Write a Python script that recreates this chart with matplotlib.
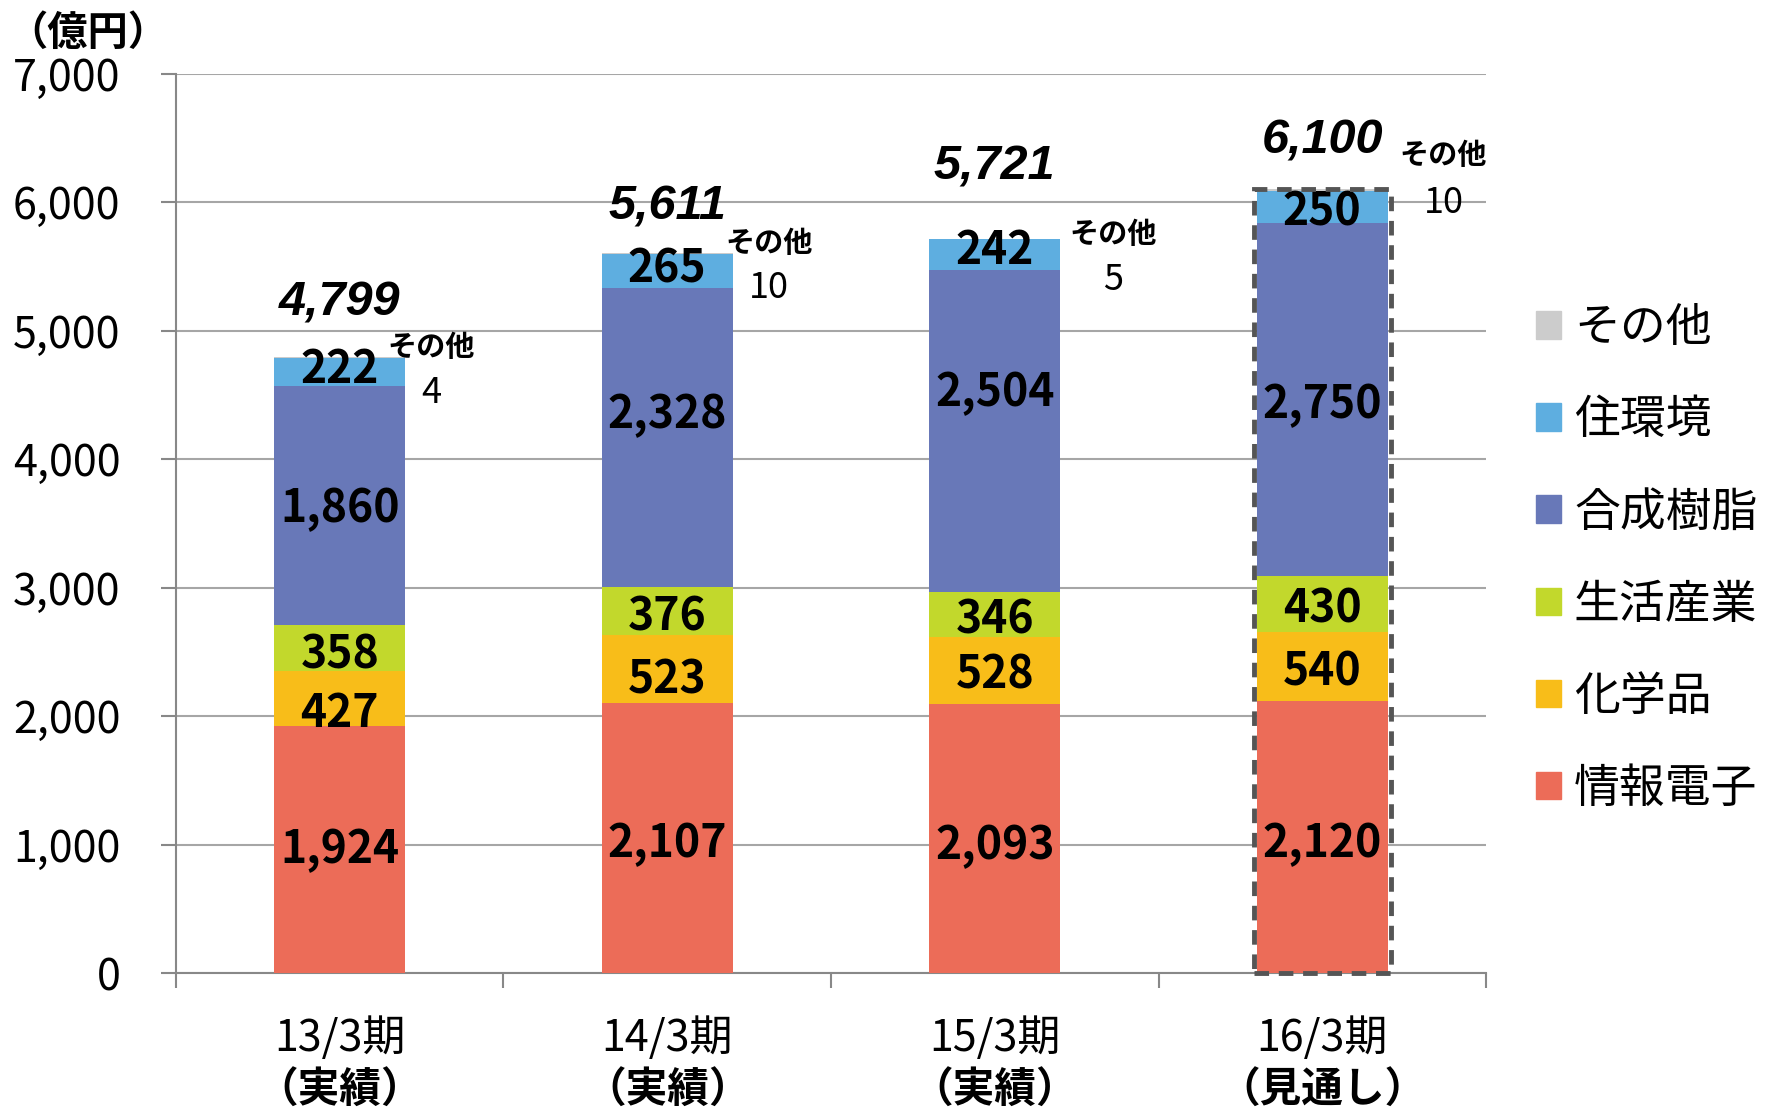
import numpy as np
import matplotlib.pyplot as plt
from matplotlib.patches import Rectangle, Patch

plt.rcParams['font.family'] = ['Noto Sans CJK JP', 'DejaVu Sans']

# =============================================================================
# DATOS
# =============================================================================
periodos = ["13/3期", "14/3期", "15/3期", "16/3期"]
subtitulos = ["（実績）", "（実績）", "（実績）", "（見通し）"]

segmentos = ["情報電子", "化学品", "生活産業", "合成樹脂", "住環境", "その他"]
colores = ["#EC6C58", "#F8BD19", "#C2D82C", "#6878B8", "#5EAEE0", "#CCCCCC"]

info_denshi = [1924, 2107, 2093, 2120]
kagakuhin = [427, 523, 528, 540]
seikatsu = [358, 376, 346, 430]
gosei_jushi = [1860, 2328, 2504, 2750]
jukankyo = [222, 265, 242, 250]
sonota = [4, 10, 5, 10]

totales = ["4,799", "5,611", "5,721", "6,100"]

valores = [info_denshi, kagakuhin, seikatsu, gosei_jushi, jukankyo, sonota]

# posiciones de etiquetas (coordenadas de datos)
y_etiquetas = [
    [981, 1034, 1016, 1034],
    [2042, 2307, 2342, 2369],
    [2501, 2793, 2775, 2855],
    [3641, 4366, 4543, 4446],
    [4720, 5506, 5648, 5948],
]
y_total = [5215, 5965, 6275, 6480]
dx_otro = [0.28, 0.31, 0.36, 0.37]
y_otro_txt = [4875, 5685, 5755, 6365]
y_otro_val = [4515, 5335, 5395, 5995]

ANCHO = 0.40

# =============================================================================
# FIGURA
# =============================================================================
fig = plt.figure(figsize=(17.81, 11.11), dpi=100)
ax = fig.add_axes([0.0988, 0.1238, 0.7356, 0.8098])

x = np.arange(len(periodos))
base = np.zeros(len(periodos))
for i, (nombre, vals, col) in enumerate(zip(segmentos, valores, colores)):
    vals = np.array(vals, dtype=float)
    ax.bar(x, vals, ANCHO, bottom=base, color=col, zorder=3, linewidth=0)
    if nombre != "その他":
        for xi, v, yl in zip(x, vals, y_etiquetas[i]):
            ax.text(xi, yl - 25, f"{int(v):,}", ha='center', va='center',
                    fontsize=32, fontweight='bold', color='black', zorder=5)
    base += vals

# totales
for xi, t, yt in zip(x, totales, y_total):
    ax.text(xi, yt, t, ha='center', va='center', fontsize=35,
            fontweight='bold', style='italic', family='Liberation Sans',
            zorder=5)

# etiquetas "その他"
for xi, v, dxo, yt, yv in zip(x, sonota, dx_otro, y_otro_txt, y_otro_val):
    ax.text(xi + dxo, yt, "その他", ha='center', va='center', fontsize=21,
            fontweight='bold', zorder=5)
    ax.text(xi + dxo, yv, str(v), ha='center', va='center', fontsize=26,
            zorder=5)

# recuadro discontinuo del 16/3期
rect = Rectangle((x[-1] - ANCHO / 2 - 0.01, 0), ANCHO + 0.02, base[-1],
                 fill=False, edgecolor='#555555', linestyle=(0, (3, 2)),
                 linewidth=3.5, zorder=6, clip_on=False)
ax.add_patch(rect)

# ejes
ax.set_xlim(-0.5, 3.5)
ax.set_ylim(0, 7000)
ax.set_yticks(np.arange(0, 7001, 1000))
ax.set_yticklabels([f"{v:,}" for v in range(0, 7001, 1000)], fontsize=31)
ax.yaxis.grid(True, color='#A6A6A6', linewidth=1.5, zorder=0)
ax.tick_params(axis='y', length=11, width=1.5, color='#888888', pad=29)

ax.set_xticks(x)
ax.set_xticklabels([])
ax.set_xticks(np.arange(-0.5, 4, 1), minor=True)
ax.tick_params(axis='x', which='major', length=0)
ax.tick_params(axis='x', which='minor', length=11, width=1.5, color='#888888')

for s in ['top', 'right']:
    ax.spines[s].set_visible(False)
for s in ['left', 'bottom']:
    ax.spines[s].set_color('#888888')
    ax.spines[s].set_linewidth(1.5)

trans = ax.get_xaxis_transform()
for xi, p, s in zip(x, periodos, subtitulos):
    ax.text(xi, -0.073, p, transform=trans, ha='center', va='center',
            fontsize=31)
    ax.text(xi, -0.130, s, transform=trans, ha='center', va='center',
            fontsize=30, fontweight='bold')

fig.text(0.004, 0.970, "（億円）", ha='left', va='center', fontsize=29,
         fontweight='bold')

# leyenda
handles = [Patch(color=c) for c in colores][::-1]
ax.legend(handles, segmentos[::-1], loc='center left',
          bbox_to_anchor=(0.8624, 0.4975), bbox_transform=fig.transFigure,
          frameon=False, fontsize=33, handlelength=0.55, handleheight=0.55,
          handletextpad=0.28, labelspacing=0.95, borderpad=0,
          borderaxespad=0)

fig.savefig("out.png", dpi=100)
